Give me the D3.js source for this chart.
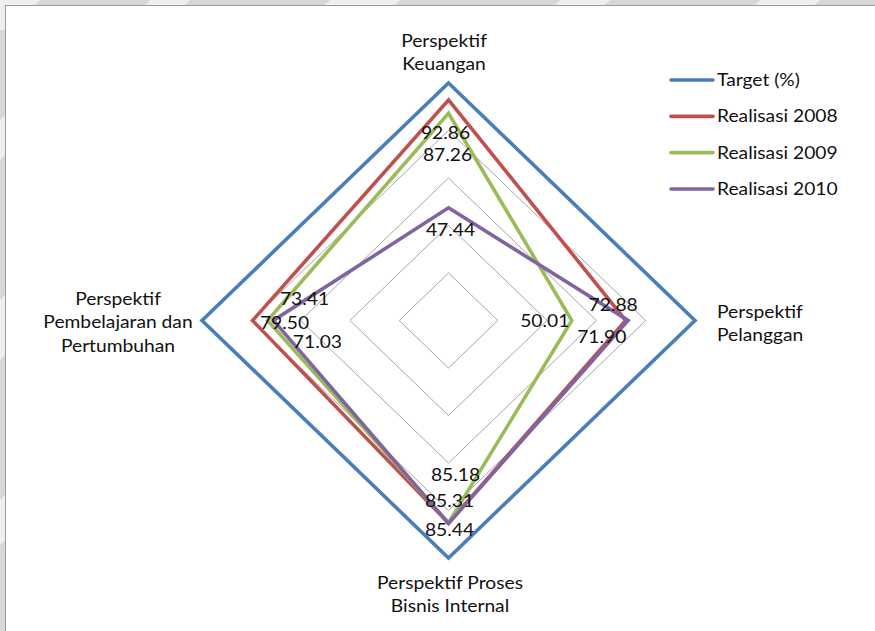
<!DOCTYPE html>
<html>
<head>
<meta charset="utf-8">
<script src="https://cdn.jsdelivr.net/npm/d3@7/dist/d3.min.js"></script>
<style>
  html, body { margin: 0; padding: 0; background: #ffffff; }
  svg { display: block; }
  text { font-family: Lato, "Open Sans", sans-serif; fill: #111; }
</style>
</head>
<body>
<svg id="chart" width="875" height="631"></svg>
<script>
// Axis categories (clockwise from the top)
const categories = [
  ["Perspektif", "Keuangan"],
  ["Perspektif", "Pelanggan"],
  ["Perspektif Proses", "Bisnis Internal"],
  ["Perspektif", "Pembelajaran dan", "Pertumbuhan"]
];

// Series values, one per axis in the same order
const seriesNames = ["Target (%)", "Realisasi 2008", "Realisasi 2009", "Realisasi 2010"];
const target2008to2010 = [100, 100, 100, 100];
const realisasi2008 = [92.86, 71.90, 85.31, 79.50];
const realisasi2009 = [87.26, 50.01, 85.18, 73.41];
const realisasi2010 = [47.44, 72.88, 85.44, 71.03];
const seriesColors = ["#4a7ebb", "#c0504d", "#9bbb59", "#8064a2"];

// Grid rings
const ringTicks = [20, 40, 60, 80, 100];

// Label nudges (dx, dy from each point), per labelled series and axis
const labelNudge = [
  [[-3, 39], [-24, 22], [1, -16], [32, 8]],
  [[-1, 48], [-27, 6], [7, -42], [37, -16]],
  [[2, 28], [-15, -10], [1, 13], [44, 27]]
];

const svg = d3.select("#chart");
const W = 875, H = 631;

// Frame: grey surround with a white plot area
svg.append("rect").attr("width", W).attr("height", H).attr("fill", "#d7d7d7");
const stripes = svg.append("g").attr("fill", "#efefef");
[[-20, 60], [150, 40], [330, 70], [560, 50], [760, 60]].forEach(([x0, w]) => {
  stripes.append("path").attr("d", `M${x0},0 L${x0 + w},0 L${x0 + w - 30},30 L${x0 - 30},30 Z`);
});
[[120, 40], [300, 60], [500, 45]].forEach(([y0, h]) => {
  stripes.append("path").attr("d", `M0,${y0} L10,${y0 - 10} L10,${y0 + h - 10} L0,${y0 + h} Z`);
});
svg.append("rect").attr("x", 5.5).attr("y", 5.5).attr("width", W).attr("height", H)
  .attr("fill", "#ffffff").attr("stroke", "#9a9a9a").attr("stroke-width", 1);

const cx = 448.5, cy = 320.5;
const rX = d3.scaleLinear().domain([0, 100]).range([0, 246.5]);
const rY = d3.scaleLinear().domain([0, 100]).range([0, 237.5]);
const angles = categories.map((_, i) => i * Math.PI / 2);

const pt = (v, i) => [cx + Math.sin(angles[i]) * rX(v), cy - Math.cos(angles[i]) * rY(v)];
const closed = d3.line().curve(d3.curveLinearClosed);

// Grid rings
svg.append("g").selectAll("path").data(ringTicks.slice(0, -1)).join("path")
  .attr("d", t => closed(angles.map((_, i) => pt(t, i))))
  .attr("fill", "none").attr("stroke", "#a6a6a6").attr("stroke-width", 1);

// Series polygons
const allSeries = [target2008to2010, realisasi2008, realisasi2009, realisasi2010];
svg.append("g").selectAll("path").data(allSeries).join("path")
  .attr("d", vals => closed(vals.map((v, i) => pt(v, i))))
  .attr("fill", "none")
  .attr("stroke", (_, k) => seriesColors[k])
  .attr("stroke-width", 3.6)
  .attr("stroke-linejoin", "miter");

// Data labels for the realisation series
const stretch = 1.1;
const lbl = svg.append("g").attr("font-size", 17.5);
[realisasi2008, realisasi2009, realisasi2010].forEach((vals, s) => {
  vals.forEach((v, i) => {
    const [x, y] = pt(v, i);
    const [dx, dy] = labelNudge[s][i];
    lbl.append("text")
      .attr("transform", `translate(${x + dx},${y + dy}) scale(${stretch},1)`)
      .attr("text-anchor", "middle")
      .text(v.toFixed(2));
  });
});

// Category labels
const catPos = [
  { x: 444, y: 47, anchor: "middle" },
  { x: 717, y: 318, anchor: "start" },
  { x: 450, y: 589, anchor: "middle" },
  { x: 118, y: 305, anchor: "middle" }
];
const cat = svg.append("g").attr("font-size", 17.5);
categories.forEach((lines, i) => {
  const p = catPos[i];
  const t = cat.append("text")
    .attr("transform", `translate(${p.x},${p.y}) scale(${stretch},1)`)
    .attr("text-anchor", p.anchor);
  lines.forEach((line, j) => {
    t.append("tspan").attr("x", 0).attr("dy", j === 0 ? 0 : 23.5).text(line);
  });
});

// Legend
const legend = svg.append("g").attr("transform", "translate(671,80)");
const rowY = d3.scalePoint().domain(seriesNames).range([0, 109]);
seriesNames.forEach((name, k) => {
  const g = legend.append("g").attr("transform", `translate(0,${rowY(name)})`);
  g.append("line").attr("x1", 0).attr("x2", 42)
    .attr("stroke", seriesColors[k]).attr("stroke-width", 3.6).attr("stroke-linecap", "round");
  g.append("text").attr("transform", `translate(46,6) scale(${stretch},1)`)
    .attr("font-size", 17.5).text(name);
});
</script>
</body>
</html>
